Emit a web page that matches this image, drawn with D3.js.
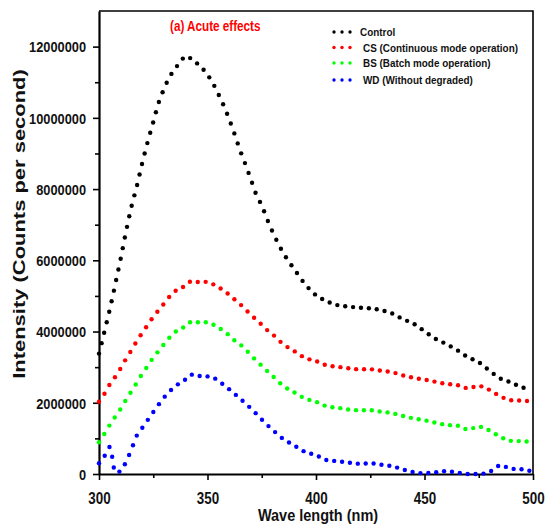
<!DOCTYPE html>
<html>
<head>
<meta charset="utf-8">
<script src="https://cdn.jsdelivr.net/npm/d3@7/dist/d3.min.js"></script>
<style>
body { margin: 0; background: #fff; }
svg text { font-family: 'Liberation Sans', Arial, sans-serif; font-weight: bold; }
</style>
</head>
<body>
<div id="chart"></div>
<script>
// wave length (nm)
const wavelength = [300, 302.5, 305, 307.5, 310, 312.5, 315, 317.5, 320, 322.5, 325, 327.5, 330, 332.5, 335, 337.5, 340, 342.5, 345, 347.5, 350, 352.5, 355, 357.5, 360, 362.5, 365, 367.5, 370, 372.5, 375, 377.5, 380,
  385, 390, 395, 400, 405, 410, 415, 420, 425, 430, 435, 440, 445, 450, 455, 460, 465, 470, 475, 480, 485, 490, 495, 499]
// intensity, millions of counts per second
const control = [3.38, 4.0, 4.63, 5.33, 6.05, 6.82, 7.52, 8.1, 8.75, 9.34, 9.88, 10.43, 10.82, 11.15, 11.37, 11.58, 11.72, 11.66, 11.54, 11.4, 11.21, 10.97, 10.67, 10.34, 9.96, 9.54, 9.09, 8.69, 8.27, 7.84, 7.54, 7.15, 6.8,
  6.2, 5.75, 5.33, 5.02, 4.85, 4.74, 4.7, 4.67, 4.65, 4.6, 4.51, 4.35, 4.22, 4.01, 3.8, 3.65, 3.48, 3.28, 3.14, 2.9, 2.68, 2.57, 2.43, 2.4]
const cs = [2.03, 2.25, 2.52, 2.73, 2.97, 3.24, 3.48, 3.74, 3.97, 4.19, 4.41, 4.6, 4.79, 4.98, 5.13, 5.22, 5.29, 5.41, 5.39, 5.4, 5.39, 5.33, 5.25, 5.15, 5.03, 4.9, 4.77, 4.62, 4.47, 4.33, 4.19, 4.04, 3.92,
  3.64, 3.45, 3.26, 3.17, 3.05, 3.01, 2.97, 2.94, 2.94, 2.9, 2.86, 2.77, 2.7, 2.65, 2.59, 2.53, 2.5, 2.41, 2.47, 2.36, 2.18, 2.07, 2.06, 2.04]
const bs = [0.89, 1.13, 1.38, 1.61, 1.83, 2.09, 2.33, 2.57, 2.82, 3.04, 3.27, 3.46, 3.65, 3.83, 3.98, 4.08, 4.15, 4.27, 4.26, 4.27, 4.25, 4.2, 4.11, 4.02, 3.89, 3.75, 3.64, 3.5, 3.34, 3.18, 3.04, 2.89, 2.75,
  2.47, 2.29, 2.12, 2.03, 1.9, 1.86, 1.81, 1.79, 1.79, 1.75, 1.71, 1.63, 1.56, 1.51, 1.44, 1.38, 1.36, 1.25, 1.33, 1.22, 1.04, 0.93, 0.92, 0.9]
const wd = [0.3, 0.5, 0.76, 0.05, 0.08, 0.35, 0.7, 1.09, 1.3, 1.52, 1.74, 1.95, 2.15, 2.32, 2.45, 2.57, 2.66, 2.79, 2.76, 2.75, 2.74, 2.71, 2.62, 2.5, 2.38, 2.25, 2.12, 1.98, 1.84, 1.69, 1.53, 1.38, 1.24,
  0.98, 0.8, 0.62, 0.53, 0.39, 0.36, 0.32, 0.29, 0.3, 0.26, 0.22, 0.13, 0.05, 0.02, 0.05, 0.08, 0.04, 0, 0, 0.06, 0.24, 0.15, 0.13, 0.08]
const seriesNames = ['Control', 'CS (Continuous mode operation)', 'BS (Batch mode operation)', 'WD (Without degraded)']
const seriesColors = ['#000000', '#ff0000', '#00ff00', '#0000ff']
const xTicks = [300, 350, 400, 450, 500]
const xMinor = [325, 375, 425, 475]
const yTicks = [0, 2, 4, 6, 8, 10, 12]
const yMinor = [1, 3, 5, 7, 9, 11]

let width = 545
let height = 525
let margin = {top: 11, right: 12, bottom: 51, left: 99}

let x = d3.scaleLinear().domain([300, 500]).range([margin.left, width - margin.right])
let y = d3.scaleLinear().domain([0, 13]).range([height - margin.bottom, margin.top])

let svg = d3.select('#chart')
  .append('svg')
  .attr('width', width)
  .attr('height', height)

// frame top / right
svg.append('path')
  .attr('d', 'M' + x(300) + ',' + y(13) + 'H' + x(500) + 'V' + y(0))
  .attr('fill', 'none')
  .attr('stroke', '#000')
  .attr('stroke-width', 1.6)

// axes
let gx = svg.append('g')
  .attr('transform', 'translate(0,' + y(0) + ')')
  .call(d3.axisBottom(x).tickValues(xTicks).tickSize(6).tickSizeOuter(0).tickFormat(d3.format('d')))
svg.append('g')
  .attr('transform', 'translate(0,' + y(0) + ')')
  .call(d3.axisBottom(x).tickValues(xMinor).tickSize(4).tickSizeOuter(0).tickFormat(''))
  .call(g => g.select('.domain').remove())
let gy = svg.append('g')
  .attr('transform', 'translate(' + x(300) + ',0)')
  .call(d3.axisLeft(y).tickValues(yTicks).tickSize(6).tickSizeOuter(0).tickFormat(d => d3.format('d')(d * 1e6)))
svg.append('g')
  .attr('transform', 'translate(' + x(300) + ',0)')
  .call(d3.axisLeft(y).tickValues(yMinor).tickSize(4).tickSizeOuter(0).tickFormat(''))
  .call(g => g.select('.domain').remove())

svg.selectAll('.domain').attr('stroke-width', 2.2)
svg.selectAll('.tick line').attr('stroke-width', 1.6)

// tick labels: taller, like the original
gx.selectAll('.tick text')
  .attr('y', null).attr('dy', null)
  .attr('transform', 'translate(0,30) scale(1,1.18)')
  .attr('font-size', 13.4)
  .attr('fill', '#111')
gy.selectAll('.tick text')
  .attr('x', null).attr('dy', null)
  .attr('transform', 'translate(-13,5.3) scale(1,1.15)')
  .attr('font-size', 12.8)
  .attr('fill', '#111')

// axis titles
svg.append('text')
  .attr('transform', 'translate(318,521) scale(1,1.15)')
  .attr('text-anchor', 'middle')
  .attr('font-size', 14.5)
  .attr('fill', '#111')
  .text('Wave length (nm)')
svg.append('text')
  .attr('transform', 'translate(25,224) rotate(-90) scale(1.33,1)')
  .attr('text-anchor', 'middle')
  .attr('font-size', 16.5)
  .attr('fill', '#111')
  .text('Intensity (Counts per second)')

// chart title
svg.append('text')
  .attr('transform', 'translate(170,31) scale(0.9,1.1)')
  .attr('font-size', 13)
  .attr('fill', '#ff0000')
  .text('(a) Acute effects')

// dotted curves: dots evenly spaced along the line, the vertical axis
// squeezed a bit as in the original export
let k = 1.4
let step = 7.9
let lineVirt = d3.line()
  .x(d => x(d[0]))
  .y(d => y(d[1]) / k)
  .curve(d3.curveMonotoneX)

let series = [control, cs, bs, wd]
series.forEach(function (vals, i) {
  let pts = wavelength.map((w, j) => [w, vals[j]])
  let tmp = svg.append('path').attr('d', lineVirt(pts)).attr('fill', 'none')
  let node = tmp.node()
  let len = node.getTotalLength()
  let dots = d3.range(0, len, step).map(function (s) {
    let p = node.getPointAtLength(s)
    return [p.x, p.y * k]
  })
  tmp.remove()
  svg.append('g')
    .selectAll('circle')
    .data(dots)
    .enter()
    .append('circle')
    .attr('cx', d => d[0])
    .attr('cy', d => d[1])
    .attr('r', 2.2)
    .attr('fill', seriesColors[i])
})

// legend
let legendY = [32, 47.5, 63, 80]
let legend = svg.append('g')
seriesNames.forEach(function (name, i) {
  let row = legend.append('g').attr('transform', 'translate(0,' + legendY[i] + ')')
  row.selectAll('circle')
    .data([334, 342, 350])
    .enter()
    .append('circle')
    .attr('cx', d => d)
    .attr('cy', 0)
    .attr('r', 1.7)
    .attr('fill', seriesColors[i])
  row.append('text')
    .attr('transform', 'translate(' + (i === 0 ? 360 : 363) + ',4) scale(0.9,1.05)')
    .attr('font-size', 11)
    .attr('fill', '#111')
    .text(name)
})
</script>
</body>
</html>
